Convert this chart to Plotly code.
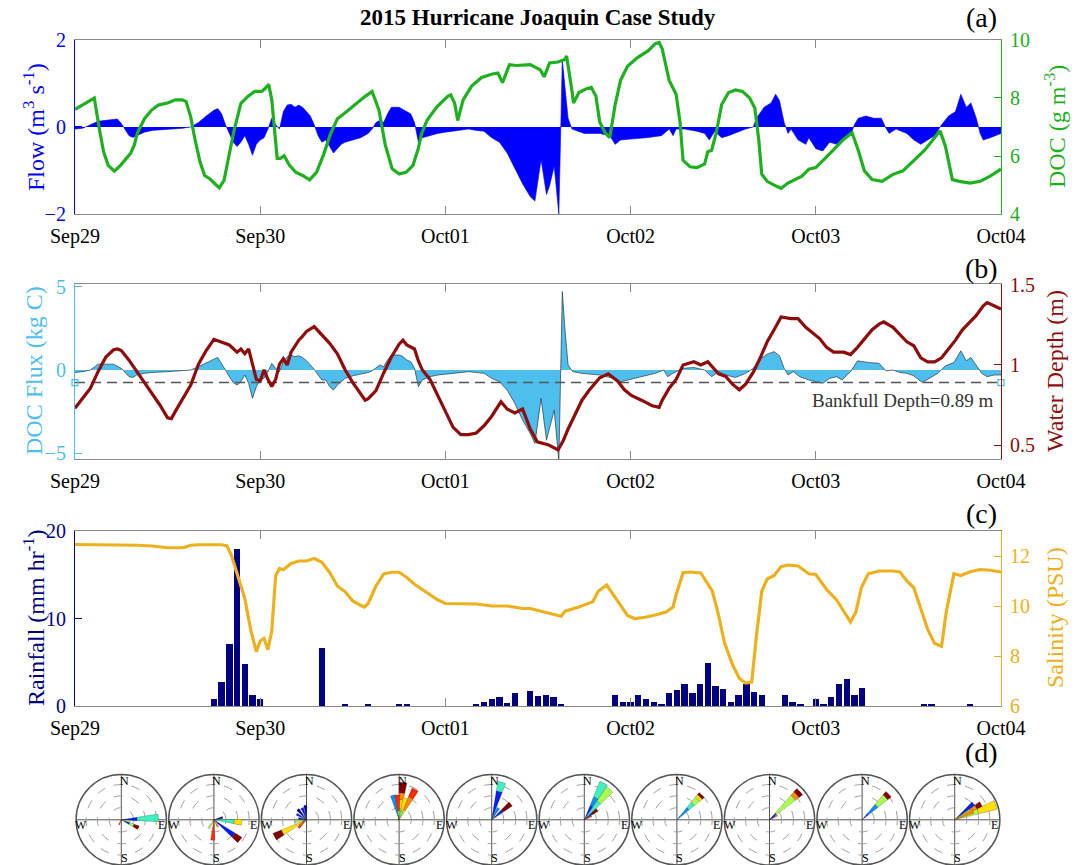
import plotly.graph_objects as go

# ---------------- data (hours since 2015-09-29 00:00) ----------------
DAY_TICKS = [0, 24, 48, 72, 96, 120]
DAY_LABELS = ["Sep29", "Sep30", "Oct01", "Oct02", "Oct03", "Oct04"]

FLOW = [(0,-0.05),(1,-0.03),(2,0.05),(3,0.13),(4,0.15),(5,0.18),(5.5,0.18),(6,0.08),(6.5,-0.05),
        (7,-0.2),(7.5,-0.24),(8,-0.2),(9,-0.12),(10,-0.08),(12,-0.06),(14,-0.03),(15,0.0),(16,0.1),
        (17,0.25),(18,0.38),(18.5,0.42),(19,0.3),(19.5,0.05),(20,-0.15),(20.5,-0.35),(21,-0.45),
        (21.5,-0.35),(22,-0.2),(22.5,-0.4),(23,-0.65),(23.5,-0.4),(24,-0.3),(24.5,-0.25),(25,-0.05),
        (25.5,0.2),(26,0.05),(26.5,-0.05),(27,0.35),(27.5,0.5),(28,0.52),(28.5,0.45),(29,0.5),
        (29.5,0.45),(30,0.35),(30.5,0.25),(31,0.05),(31.5,-0.2),(32,-0.35),(32.5,-0.3),(33,-0.45),
        (33.5,-0.6),(34,-0.5),(34.5,-0.4),(35,-0.35),(36,-0.3),(37,-0.25),(38,-0.15),(38.5,-0.05),
        (39,0.1),(39.5,0.15),(40,0.1),(40.5,0.3),(41,0.45),(42,0.45),(42.5,0.4),(43,0.35),(43.5,0.3),
        (44,0.1),(44.5,-0.35),(45,-0.25),(46,-0.2),(47,-0.15),(48,-0.12),(49,-0.1),(50,-0.08),
        (51,-0.05),(52,-0.08),(53,-0.1),(54,-0.25),(55,-0.35),(56,-0.6),(57,-0.95),(58,-1.3),
        (59,-1.6),(59.6,-1.7),(60.4,-0.75),(61.1,-1.55),(61.5,-1.35),(62.1,-0.9),(62.7,-2.0),
        (62.95,0.0),(63.15,1.55),(63.5,0.9),(63.9,0.2),(64.4,-0.05),(65.3,-0.1),(66,-0.15),(68,-0.15),
        (69.3,-0.2),(70,-0.4),(70.7,-0.3),(72,-0.28),(74,-0.25),(76,-0.2),(77,-0.05),(77.5,-0.2),
        (77.9,-0.05),(79,-0.05),(80.6,-0.1),(81.6,-0.15),(82.2,-0.3),(82.9,-0.1),(83.8,-0.25),
        (84.7,-0.2),(86.1,-0.1),(86.9,-0.05),(87.9,0.0),(88.3,0.2),(89.3,0.45),(90.2,0.55),(90.8,0.75),
        (91.3,0.6),(91.9,0.1),(92.4,-0.15),(92.8,-0.05),(93.7,-0.3),(94.7,-0.4),(95.1,-0.25),(96,-0.5),
        (96.9,-0.55),(97.8,-0.35),(98.7,-0.4),(99.6,-0.25),(100.5,-0.2),(101,0.05),(101.5,0.2),
        (102.5,0.25),(103.5,0.2),(104.5,0.2),(105,0.0),(105.5,-0.15),(106.4,-0.05),(107.8,-0.15),
        (108.7,-0.3),(109.6,-0.4),(110.5,-0.3),(111.4,-0.2),(112.3,0.05),(113.2,0.25),(114.1,0.35),
        (114.8,0.75),(115.5,0.45),(116.1,0.55),(116.8,0.2),(117.3,-0.15),(117.7,-0.3),(118.6,-0.25),
        (120,-0.15)]

DOC = [(0,7.6),(1.2,7.8),(2.5,7.99),(3.2,6.86),(3.7,6.15),(4.3,5.68),(5.1,5.48),(5.9,5.68),(6.6,5.89),
       (7.2,6.09),(7.7,6.39),(8.1,6.8),(9.0,7.28),(9.9,7.57),(10.8,7.75),(12.1,7.83),(13.0,7.93),
       (13.9,7.93),(14.4,7.87),(15.0,7.34),(15.5,6.63),(16.2,5.8),(16.8,5.33),(17.5,5.21),(18.2,5.03),
       (18.7,4.91),(19.3,5.15),(19.9,5.92),(20.6,6.86),(21.5,7.81),(22.4,8.05),(23.3,8.22),(24.2,8.22),
       (24.6,8.31),(25.1,8.46),(25.5,7.93),(26.0,6.39),(26.2,5.92),(26.6,5.92),(27.1,6.01),(27.8,5.68),
       (28.6,5.44),(29.5,5.33),(30.4,5.18),(31.3,5.44),(32.2,6.04),(33.1,6.75),(34.0,7.28),(34.9,7.46),
       (36.2,7.75),(37.6,8.05),(38.5,8.22),(39.4,7.57),(40.2,6.39),(41.1,5.56),(42.0,5.38),(42.9,5.44),
       (43.8,5.68),(44.5,6.27),(44.9,6.75),(45.6,7.22),(46.9,7.69),(48.3,8.05),(48.7,8.1),(49.2,7.81),
       (49.6,7.22),(50.3,7.93),(51.4,8.4),(52.7,8.7),(54.1,8.82),(54.8,8.85),(55.4,8.52),(56.3,9.14),
       (57.2,9.11),(59.0,9.14),(60.3,8.96),(60.8,8.72),(61.5,9.2),(62.6,9.23),(63.5,9.32),(63.7,9.44),
       (64.4,8.24),(64.6,7.82),(65.3,8.18),(66.2,8.3),(66.9,8.36),(67.5,8.06),(68.0,7.17),(68.7,6.8),
       (69.3,6.63),(70.0,7.77),(70.7,8.6),(71.6,9.08),(72.9,9.38),(74.3,9.62),(75.2,9.86),(75.7,9.9),
       (76.1,9.68),(77.0,8.6),(77.9,8.12),(78.4,7.17),(78.8,5.85),(79.7,5.63),(80.6,5.6),(81.6,5.73),
       (82.0,6.15),(82.5,6.2),(83.1,6.8),(83.8,7.77),(84.7,8.18),(85.6,8.27),(86.5,8.22),(87.4,8.0),
       (88.1,7.65),(88.6,6.57),(89.0,5.37),(89.7,5.13),(90.6,5.0),(91.5,4.89),(92.4,5.07),(93.3,5.19),
       (94.2,5.31),(95.1,5.55),(96.0,5.6),(97.4,5.97),(98.7,6.33),(99.6,6.57),(100.7,6.8),(101.5,6.2),
       (102.3,5.49),(103.3,5.19),(104.6,5.13),(106.0,5.37),(107.3,5.49),(108.7,5.85),(110.1,6.2),
       (111.4,6.63),(112.1,6.87),(112.8,6.33),(113.7,5.19),(114.6,5.13),(116.0,5.07),(117.3,5.13),
       (118.6,5.31),(120,5.55)]

FLUX = [(0,-0.15),(1,-0.1),(2,0.0),(3,0.35),(4,0.35),(5,0.35),(6,0.1),(7,-0.4),(7.5,-0.45),(8,-0.3),
        (9,-0.2),(10,-0.15),(12,-0.1),(14,-0.05),(15,0),(16,0.2),(17,0.45),(18,0.65),(18.5,0.75),(19,0.4),
        (19.5,0.0),(20,-0.4),(20.5,-0.75),(21,-0.9),(21.5,-0.7),(22,-0.3),(22.5,-0.8),(23,-1.7),
        (23.5,-1.0),(24,-0.6),(24.5,-0.5),(25,-0.1),(25.5,0.4),(26,0.1),(26.5,-0.1),(27,0.5),(27.5,0.8),
        (28,0.9),(28.5,0.8),(29,0.85),(29.5,0.75),(30,0.55),(30.5,0.3),(31,0.05),(31.5,-0.3),(32,-0.6),
        (32.5,-0.6),(33,-1.0),(33.5,-1.2),(34,-0.9),(34.5,-0.7),(35,-0.5),(36,-0.35),(37,-0.25),
        (38,-0.15),(38.5,-0.05),(39,0.15),(39.5,0.3),(40,0.2),(40.5,0.6),(41,0.9),(42,0.9),(42.5,0.8),
        (43,0.6),(43.5,0.5),(44,0.1),(44.5,-1.0),(45,-0.6),(46,-0.4),(47,-0.3),(48,-0.25),(49,-0.2),
        (50,-0.15),(51,-0.1),(52,-0.15),(53,-0.2),(54,-0.5),(55,-0.7),(56,-1.2),(57,-2.0),(58,-3.0),
        (59,-3.8),(59.6,-4.4),(60.4,-1.7),(61.1,-4.2),(61.5,-3.4),(62.1,-2.4),(62.7,-5.5),(62.95,0.0),
        (63.15,4.7),(63.5,2.4),(63.9,0.3),(64.5,-0.1),(65.7,-0.2),(68.0,-0.3),(69.8,-0.5),(70.7,-0.7),
        (71.6,-0.6),(73.4,-0.4),(74.3,-0.3),(75.2,-0.2),(76.3,0.0),(76.8,-0.4),(77.5,-0.2),(78.8,0.1),
        (80.2,0.15),(81.6,0.0),(82.5,-0.4),(83.4,-0.1),(84.3,-0.3),(85.6,-0.45),(86.9,-0.2),(87.9,0.1),
        (88.8,0.65),(89.7,0.95),(90.6,1.1),(91.3,0.85),(91.9,0.1),(92.4,-0.3),(93.1,-0.1),(93.9,-0.4),
        (95.1,-0.6),(96.9,-0.8),(97.8,-0.5),(98.7,-0.4),(99.4,-0.6),(100.5,-0.1),(101.4,0.55),
        (102.8,0.45),(104.2,0.4),(105.1,-0.05),(106.0,0.0),(106.9,-0.15),(107.8,-0.2),(108.7,-0.35),
        (109.8,-0.75),(110.7,-0.5),(111.8,-0.2),(112.8,0.25),(113.9,0.45),(114.8,1.15),(115.5,0.55),
        (116.1,0.75),(116.8,0.25),(117.5,-0.2),(118.2,-0.4),(119.1,-0.3),(120,-0.3)]

DEPTH = [(0,0.73),(1,0.79),(2,0.855),(3,0.96),(4,1.05),(5,1.095),(5.5,1.10),(6,1.09),(7,1.03),(8,0.96),
         (9,0.89),(10,0.82),(11,0.75),(12,0.67),(12.5,0.665),(13,0.71),(14,0.79),(15,0.875),(16,1.005),
         (17,1.09),(18,1.16),(19,1.145),(20,1.125),(21,1.08),(21.5,1.1),(22,1.07),(22.5,1.1),(23,1.005),
         (23.5,0.91),(24,0.9),(24.5,0.97),(25,0.91),(25.5,0.865),(26,0.91),(26.5,1.005),(27,1.04),
         (27.5,1.0),(28,1.08),(29,1.155),(29.5,1.18),(30,1.21),(31,1.24),(32,1.19),(33,1.135),(34,1.07),
         (35,0.97),(36,0.89),(37,0.82),(37.6,0.78),(38,0.79),(39,0.84),(40,0.95),(41,1.05),(42,1.13),
         (42.5,1.155),(43,1.125),(44,1.10),(44.5,1.025),(45,0.97),(46,0.91),(47,0.81),(48,0.70),(49,0.61),
         (50,0.565),(51,0.565),(52,0.575),(53,0.62),(54,0.68),(55.2,0.77),(56,0.725),(57,0.70),(58,0.725),
         (59,0.6),(59.9,0.52),(60.8,0.51),(61.4,0.5),(62.6,0.47),(63.3,0.53),(63.9,0.6),(64.8,0.69),
         (65.7,0.78),(66.6,0.84),(68.0,0.92),(69.1,0.945),(70.3,0.9),(71.2,0.845),(72.1,0.81),(73.4,0.78),
         (74.8,0.745),(75.7,0.735),(76.1,0.78),(77.0,0.855),(77.9,0.91),(78.8,1.0),(80.2,1.02),(81.1,1.0),
         (82.0,1.02),(83.4,0.945),(84.3,0.93),(85.2,0.88),(86.1,0.845),(86.9,0.88),(87.9,0.955),
         (88.8,1.045),(89.7,1.145),(90.6,1.22),(91.5,1.30),(92.8,1.29),(93.7,1.29),(94.7,1.235),(95.6,1.2),
         (96.5,1.165),(97.4,1.11),(98.3,1.08),(99.6,1.08),(100.5,1.065),(101.4,1.11),(102.3,1.165),
         (103.3,1.22),(104.2,1.255),(104.8,1.27),(106.0,1.235),(106.9,1.19),(107.8,1.145),(108.7,1.12),
         (109.6,1.045),(110.5,1.02),(111.4,1.02),(112.3,1.045),(113.2,1.1),(114.1,1.155),(115.0,1.22),
         (115.9,1.265),(116.8,1.31),(117.7,1.37),(118.2,1.39),(119.1,1.37),(120,1.35)]

BANKFULL = 0.89

RAIN = [(18,0.8),(19,2.8),(20,7.1),(21,18.0),(22,4.8),(23,1.3),(24,0.8),(32,6.6),(35,0.2),(38,0.2),
        (42,0.2),(43,0.2),(52,0.25),(53,0.5),(54,0.8),(55,1.0),(56,0.3),(57,1.5),(59,1.75),(60,1.2),
        (61,1.3),(62,1.0),(63,0.25),(70,1.26),(71,0.47),(72,0.47),(73,1.26),(74,0.79),(75,0.47),
        (76,0.24),(77,1.53),(78,1.8),(79,2.5),(80,1.53),(81,2.5),(82,4.87),(83,2.3),(84,1.89),(85,0.47),
        (86,1.26),(87,2.5),(88,1.57),(89,1.26),(92,1.26),(93,0.47),(94,0.24),(96,0.79),(97,0.24),
        (98,1.02),(99,2.5),(100,3.06),(101,1.26),(102,2.04),(110,0.2),(111,0.2),(116,0.2)]

SALINITY = [(0,12.46),(2,12.45),(4,12.47),(6,12.44),(8,12.43),(10,12.4),(12,12.33),(14,12.33),(15,12.43),
            (16,12.45),(19,12.45),(19.7,12.4),(20.3,12.0),(21,11.3),(22,10.3),(22.8,9.0),(23.5,8.17),
            (24,8.6),(24.5,8.7),(25,8.25),(25.5,9.0),(26,11.2),(26.5,11.5),(27,11.45),(28,11.7),(29,11.8),
            (30,11.8),(31,11.9),(32,11.75),(33,11.34),(34,10.8),(35,10.57),(36,10.2),(37,10.03),
            (37.5,9.96),(38,10.1),(39,10.8),(40,11.28),(41,11.35),(42,11.35),(43,11.14),(44,10.87),
            (45,10.66),(46,10.45),(47,10.25),(48,10.1),(50,10.1),(52,10.08),(54,10.0),(56,10.0),(58,9.9),
            (59,9.9),(60.8,9.76),(62.6,9.64),(63.0,9.59),(63.5,9.79),(65.3,9.96),(67.1,10.17),(67.8,10.59),
            (68.9,10.84),(69.8,10.45),(70.7,10.03),(71.6,9.62),(72.5,9.5),(73.9,9.55),(75.2,9.64),
            (76.6,9.76),(77.5,9.96),(77.9,10.45),(78.8,11.33),(79.7,11.36),(81.1,11.32),(81.9,10.94),
            (82.6,10.59),(83.3,9.76),(84.2,8.5),(85.2,7.66),(86.1,7.1),(86.9,6.92),(87.7,6.96),(88.3,8.78),
            (89.0,10.59),(89.7,11.08),(90.6,11.22),(91.5,11.57),(92.4,11.64),(93.7,11.6),(95.1,11.29),
            (96.0,11.26),(97.4,10.66),(98.7,10.24),(99.6,9.82),(100.5,9.36),(101.2,9.76),(101.9,10.73),
            (102.8,11.29),(104.2,11.4),(106.0,11.4),(106.9,11.36),(107.8,11.0),(108.7,10.73),(109.6,9.9),
            (110.5,9.06),(111.4,8.5),(112.3,8.39),(112.9,9.76),(113.9,11.29),(114.8,11.22),(115.9,11.36),
            (117.3,11.46),(118.6,11.43),(120,11.36)]

# wind roses: speed classes (jet-like colours) and, per rose, wedges of
# (direction deg, [(speed class, cumulative radius fraction), ...])
SPEED_COLORS = ['#00008F', '#0020FF', '#0090FF', '#40F0C0', '#A8FF50', '#FFE000', '#FF8C00', '#FF2A00', '#800000']
ROSES = [
    [(87, [(0,.12),(1,.35),(3,.82)]), (115, [(1,.2),(4,.3),(8,.42)]), (205, [(7,.12)]), (100, [(4,.2)])],
    [(128, [(0,.15),(1,.55),(8,.73)]), (95, [(3,.45),(5,.62)]), (75, [(0,.2)]), (183, [(7,.45)]),
     (212, [(4,.22)]), (150, [(6,.18)])],
    [(242, [(0,.1),(5,.6),(8,.8)]), (225, [(7,.25)]), (232, [(6,.2)]), (262, [(4,.25)]), (300, [(1,.25)]),
     (320, [(0,.3)]), (340, [(1,.28)]), (355, [(0,.32)]), (280, [(0,.18)])],
    [(6, [(4,.25),(5,.45),(6,.6),(8,.83)]), (28, [(4,.25),(6,.55),(7,.76)]), (346, [(0,.1),(2,.56)]),
     (356, [(4,.2),(7,.55)]), (16, [(4,.2),(5,.5)])],
    [(15, [(0,.15),(1,.65),(3,.86)]), (50, [(0,.15),(1,.3),(8,.55)]), (30, [(2,.3)])],
    [(28, [(0,.12),(1,.35),(2,.55),(3,.92)]), (40, [(3,.5),(4,.88)]), (52, [(0,.1),(1,.2),(8,.36)]),
     (62, [(7,.18)])],
    [(45, [(1,.1),(2,.35),(3,.5),(4,.65),(5,.72),(8,.78)])],
    [(47, [(0,.12),(1,.2),(4,.72),(6,.82),(8,.92)]), (60, [(6,.2)]), (52, [(1,.15)])],
    [(46, [(0,.1),(1,.18),(2,.45),(4,.72),(8,.82)])],
    [(50, [(0,.1),(1,.55)]), (60, [(4,.4),(6,.55),(8,.68)]), (70, [(4,.55),(5,.97)]), (65, [(6,.45)])],
]

# ---------------- styling ----------------
W, H = 1077, 865
ML, MR = 75, 76
PW = W - ML - MR
FONT = "Liberation Serif"
BLUE = '#0000FF'
GREEN = '#1FB01F'
LBLUE = '#4DBEEE'
DRED = '#8E0C0C'
NAVY = '#000080'
ORANGE = '#EDB120'
GRAY = '#8a8a8a'


def px(x):
    return (x - ML) / PW


def py(y):
    return 1 - y / H


def unzip(pairs):
    return [p[0] for p in pairs], [p[1] for p in pairs]


fig = go.Figure()

ft, fv = unzip(FLOW)
fig.add_trace(go.Scatter(x=ft, y=fv, mode='lines', fill='tozeroy', fillcolor=BLUE,
                         line=dict(color=BLUE, width=0.6), xaxis='x', yaxis='y'))
dt, dv = unzip(DOC)
fig.add_trace(go.Scatter(x=dt, y=dv, mode='lines', line=dict(color=GREEN, width=3.2),
                         xaxis='x', yaxis='y2'))

xt, xv = unzip(FLUX)
fig.add_trace(go.Scatter(x=xt, y=xv, mode='lines', fill='tozeroy', fillcolor=LBLUE,
                         line=dict(color='#2a3a40', width=0.7), xaxis='x2', yaxis='y3'))
fig.add_trace(go.Scatter(x=[0, 120], y=[BANKFULL, BANKFULL], mode='lines+markers',
                         line=dict(color='#555555', width=1.5, dash='10px,6px'),
                         marker=dict(symbol='square-open', size=6, color=LBLUE, line=dict(width=1.2)),
                         xaxis='x2', yaxis='y4', cliponaxis=False))
wt, wv = unzip(DEPTH)
fig.add_trace(go.Scatter(x=wt, y=wv, mode='lines', line=dict(color=DRED, width=3.2),
                         xaxis='x2', yaxis='y4'))

rt, rv = unzip(RAIN)
fig.add_trace(go.Bar(x=rt, y=rv, width=0.82, marker=dict(color=NAVY, line=dict(width=0)),
                     xaxis='x3', yaxis='y5'))
st, sv = unzip(SALINITY)
fig.add_trace(go.Scatter(x=st, y=sv, mode='lines', line=dict(color=ORANGE, width=3.2),
                         xaxis='x3', yaxis='y6'))

# wind roses
for i, rose in enumerate(ROSES):
    th, base, rr, wd, col = [], [], [], [], []
    for direction, segs in rose:
        prev = 0.0
        for cls, rout in segs:
            th.append(direction)
            base.append(prev)
            rr.append(rout - prev)
            wd.append(12)
            col.append(SPEED_COLORS[cls])
            prev = rout
    fig.add_trace(go.Barpolar(theta=th, r=rr, base=base, width=wd,
                              marker=dict(color=col, line=dict(color='rgba(40,40,40,0.6)', width=0.4)),
                              subplot='polar' if i == 0 else f'polar{i+1}'))

# ---------------- layout ----------------
tickfont = dict(family=FONT, size=20, color='black')


def xax(anchor):
    return dict(domain=[0, 1], anchor=anchor, range=[0, 120], tickvals=DAY_TICKS, ticktext=DAY_LABELS,
                ticks='inside', ticklen=8, tickcolor=GRAY, tickwidth=1, showline=True, linecolor=GRAY,
                linewidth=1.2, mirror='ticks', showgrid=False, zeroline=False, tickfont=tickfont,
                ticklabelstandoff=4, automargin=False)


def yax(dom, rng, vals, color, side='left', overlay=None, anchor='x', labels=None):
    d = dict(range=rng, tickvals=vals, ticks='inside', ticklen=7, tickcolor=color, tickwidth=1,
             showline=True, linecolor=color, linewidth=1.2, showgrid=False, zeroline=False,
             tickfont=dict(family=FONT, size=20, color=color), side=side, anchor=anchor,
             ticklabelstandoff=4, automargin=False)
    if labels is not None:
        d['ticktext'] = labels
    if overlay:
        d['overlaying'] = overlay
    else:
        d['domain'] = dom
    return d


dom_a = [py(214.2), py(39.6)]
dom_b = [py(459), py(284)]
dom_c = [py(706), py(531)]

layout = dict(
    width=W, height=H, autosize=False,
    margin=dict(l=ML, r=MR, t=0, b=0, pad=0, autoexpand=False),
    paper_bgcolor='white', plot_bgcolor='white',
    showlegend=False, font=dict(family=FONT),
    xaxis=xax('y'), xaxis2=xax('y3'), xaxis3=xax('y5'),
    yaxis=yax(dom_a, [-2, 2], [-2, 0, 2], BLUE, anchor='x'),
    yaxis2=yax(None, [4, 10], [4, 6, 8, 10], GREEN, side='right', overlay='y', anchor='x'),
    yaxis3=yax(dom_b, [-5.33, 5.15], [-5, 0, 5], LBLUE, anchor='x2'),
    yaxis4=yax(None, [0.4125, 1.506], [0.5, 1, 1.5], DRED, side='right', overlay='y3', anchor='x2',
               labels=['0.5', '1', '1.5']),
    yaxis5=yax(dom_c, [0, 20], [0, 10, 20], NAVY, anchor='x3'),
    yaxis6=yax(None, [6, 13], [6, 8, 10, 12], ORANGE, side='right', overlay='y5', anchor='x3'),
    bargap=0,
)

for i in range(len(ROSES)):
    key = 'polar' if i == 0 else f'polar{i+1}'
    layout[key] = dict(
        domain=dict(x=[i / 10, (i + 1) / 10], y=[0, py(774.6)]),
        bgcolor='white', hole=0,
        radialaxis=dict(range=[0, 1], tickvals=[0.27, 0.53, 0.78], showticklabels=False, ticks='',
                        showline=False, gridcolor='#a0a0a0', griddash='dash', gridwidth=0.8),
        angularaxis=dict(direction='clockwise', rotation=90, tickvals=[0, 90, 180, 270],
                         showticklabels=False, ticks='', showline=True, linecolor='#555555',
                         linewidth=1.5, gridcolor='#555555', gridwidth=1.2),
    )

fig.update_layout(**layout)

ann = []
ann.append(dict(text='<b>2015 Hurricane Joaquin Case Study</b>', x=0.5, y=py(17), xref='paper', yref='paper',
                showarrow=False, font=dict(family=FONT, size=23, color='black'), xanchor='center', yanchor='middle'))
for lab, yy in [('(a)', 17), ('(b)', 268), ('(c)', 513), ('(d)', 752)]:
    ann.append(dict(text=lab, x=px(981), y=py(yy), xref='paper', yref='paper', showarrow=False,
                    font=dict(family=FONT, size=28, color='black'), xanchor='center', yanchor='middle'))

titles = [
    ('Flow (m<sup>3</sup> s<sup>-1</sup>)', 34, 127, BLUE),
    ('DOC (g m<sup>-3</sup>)', 1055, 127, GREEN),
    ('DOC Flux (kg C)', 34, 371, LBLUE),
    ('Water Depth (m)', 1055, 371, DRED),
    ('Rainfall (mm hr<sup>-1</sup>)', 34, 618, NAVY),
    ('Salinity (PSU)', 1055, 618, ORANGE),
]
for txt, xx, yy, c in titles:
    ann.append(dict(text=txt, x=px(xx), y=py(yy), xref='paper', yref='paper', showarrow=False,
                    textangle=-90, font=dict(family=FONT, size=24, color=c),
                    xanchor='center', yanchor='middle'))

ann.append(dict(text='Bankfull Depth=0.89 m', x=px(995), y=py(400), xref='paper', yref='paper',
                showarrow=False, font=dict(family=FONT, size=19, color='#333333'),
                xanchor='right', yanchor='middle'))

cy = H - 45.2
for i in range(len(ROSES)):
    cx = ML + PW / 10 * (i + 0.5)
    for lab, dx, dy in [('N', 3, -39), ('S', 3, 38), ('W', -40, 5), ('E', 40, 5)]:
        ann.append(dict(text=lab, x=px(cx + dx), y=py(cy + dy), xref='paper', yref='paper',
                        showarrow=False, font=dict(family=FONT, size=12, color='black'),
                        xanchor='center', yanchor='middle'))

fig.update_layout(annotations=ann)
fig.write_html("out.html")
